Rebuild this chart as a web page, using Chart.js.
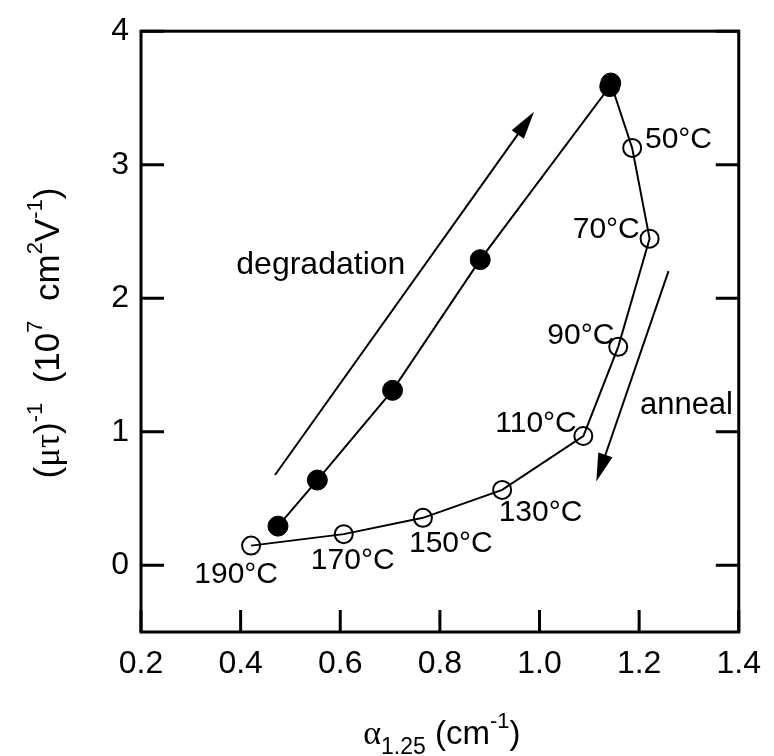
<!DOCTYPE html>
<html>
<head>
<meta charset="utf-8">
<script src="https://cdn.jsdelivr.net/npm/chart.js@4/dist/chart.umd.min.js"></script>
<style>
  body { margin: 0; background: #fff; }
  #wrap { width: 774px; height: 756px; }
</style>
</head>
<body>
<div id="wrap"><canvas id="chart" width="774" height="756"></canvas></div>
<script>
// degradation run (filled circles)
const degX = [0.475, 0.554, 0.705, 0.881, 1.141, 1.143];
const degY = [0.293, 0.638, 1.31, 2.289, 3.585, 3.612];

// anneal run (open circles), starts at the last degraded point
const annX = [1.143, 1.186, 1.221, 1.158, 1.088, 0.925, 0.766, 0.607, 0.421];
const annY = [3.612, 3.126, 2.446, 1.636, 0.968, 0.564, 0.355, 0.233, 0.147];
const annTemps = ['', '50°C', '70°C', '90°C', '110°C', '130°C', '150°C', '170°C', '190°C'];

// where each temperature label sits (data coords)
const tempLabelX = [null, 1.279, 1.134, 1.083, 0.993, 1.002, 0.822, 0.625, 0.391];
const tempLabelY = [null, 3.186, 2.515, 1.718, 1.060, 0.397, 0.164, 0.037, -0.074];

const xTicks = [0.2, 0.4, 0.6, 0.8, 1.0, 1.2, 1.4];
const yTicks = [0, 1, 2, 3, 4];

// arrows: [x0, y0, x1, y1] tail -> tip
const arrowDeg = [0.469, 0.676, 0.989, 3.397];
const arrowAnn = [1.259, 2.203, 1.114, 0.628];
const textNotes = [
    { text: 'degradation', x: 0.561, y: 2.247, size: 32 },
    { text: 'anneal', x: 1.295, y: 1.199, size: 31 }
];

const FONT = '"Liberation Sans", Arial, sans-serif';
const GREEK = '"Liberation Serif", "DejaVu Serif", serif';

function toPts(xs, ys) {
    return xs.map((x, i) => ({ x: x, y: ys[i] }));
}

// draws text runs, each {t, size, dy, font}
function drawRuns(ctx, runs, x, y, align) {
    let total = 0;
    runs.forEach(r => {
        ctx.font = r.size + 'px ' + (r.font || FONT);
        r.w = ctx.measureText(r.t).width;
        total += r.w;
    });
    let cx = align === 'center' ? x - total / 2 : x;
    runs.forEach(r => {
        ctx.font = r.size + 'px ' + (r.font || FONT);
        ctx.fillText(r.t, cx, y + (r.dy || 0));
        cx += r.w;
    });
}

function arrow(ctx, xs, ys, a) {
    const x0 = xs.getPixelForValue(a[0]), y0 = ys.getPixelForValue(a[1]);
    const x1 = xs.getPixelForValue(a[2]), y1 = ys.getPixelForValue(a[3]);
    const ang = Math.atan2(y1 - y0, x1 - x0);
    const hl = 28, hw = 7.5;
    ctx.beginPath();
    ctx.moveTo(x0, y0);
    ctx.lineTo(x1 - hl * 0.8 * Math.cos(ang), y1 - hl * 0.8 * Math.sin(ang));
    ctx.lineWidth = 2;
    ctx.stroke();
    ctx.beginPath();
    ctx.moveTo(x1, y1);
    ctx.lineTo(x1 - hl * Math.cos(ang) + hw * Math.sin(ang), y1 - hl * Math.sin(ang) - hw * Math.cos(ang));
    ctx.lineTo(x1 - hl * Math.cos(ang) - hw * Math.sin(ang), y1 - hl * Math.sin(ang) + hw * Math.cos(ang));
    ctx.closePath();
    ctx.fill();
}

const decor = {
    id: 'decor',
    afterDraw: (chart) => {
        const ctx = chart.ctx;
        const a = chart.chartArea;
        const xs = chart.scales.x, ys = chart.scales.y;
        ctx.save();
        ctx.strokeStyle = '#000';
        ctx.fillStyle = '#000';

        // frame + inward ticks
        ctx.lineWidth = 3;
        ctx.strokeRect(a.left, a.top, a.right - a.left, a.bottom - a.top);
        ctx.beginPath();
        yTicks.forEach(v => {
            const py = ys.getPixelForValue(v);
            ctx.moveTo(a.left, py); ctx.lineTo(a.left + 23, py);
            ctx.moveTo(a.right, py); ctx.lineTo(a.right - 23, py);
        });
        xTicks.forEach(v => {
            const px = xs.getPixelForValue(v);
            ctx.moveTo(px, a.bottom); ctx.lineTo(px, a.bottom - 22);
        });
        ctx.stroke();

        // arrows
        arrow(ctx, xs, ys, arrowDeg);
        arrow(ctx, xs, ys, arrowAnn);

        // annotations
        ctx.textAlign = 'center';
        ctx.textBaseline = 'middle';
        ctx.font = '30px ' + FONT;
        annTemps.forEach((t, i) => {
            if (!t) return;
            ctx.fillText(t, xs.getPixelForValue(tempLabelX[i]), ys.getPixelForValue(tempLabelY[i]));
        });
        textNotes.forEach(n => {
            ctx.font = n.size + 'px ' + FONT;
            ctx.fillText(n.text, xs.getPixelForValue(n.x), ys.getPixelForValue(n.y));
        });

        // axis titles
        ctx.textAlign = 'left';
        ctx.textBaseline = 'alphabetic';
        drawRuns(ctx, [
            { t: 'α', size: 34, font: GREEK },
            { t: '1.25', size: 23, dy: 10 },
            { t: ' (cm', size: 33 },
            { t: '-1', size: 22, dy: -16 },
            { t: ')', size: 33 }
        ], (a.left + a.right) / 2 + 2, 744, 'center');

        ctx.translate(59, 333);
        ctx.rotate(-Math.PI / 2);
        drawRuns(ctx, [
            { t: '(', size: 35 },
            { t: 'μτ', size: 35, font: GREEK },
            { t: ')', size: 35 },
            { t: '-1', size: 22, dy: -17 },
            { t: '  (10', size: 35 },
            { t: '7', size: 22, dy: -17 },
            { t: '  cm', size: 35 },
            { t: '2', size: 22, dy: -17 },
            { t: 'V', size: 35 },
            { t: '-1', size: 22, dy: -17 },
            { t: ')', size: 35 }
        ], 0, 0, 'center');
        ctx.restore();
    }
};

new Chart(document.getElementById('chart').getContext('2d'), {
    type: 'scatter',
    data: {
        datasets: [
            {
                data: toPts(degX, degY),
                showLine: true,
                borderColor: '#000',
                borderWidth: 2,
                pointRadius: 10,
                pointBackgroundColor: '#000',
                pointBorderColor: '#000',
                pointBorderWidth: 1
            },
            {
                data: toPts(annX, annY),
                showLine: true,
                borderColor: '#000',
                borderWidth: 2,
                pointRadius: annX.map((v, i) => i === 0 ? 0 : 9),
                pointBackgroundColor: 'rgba(0,0,0,0)',
                pointBorderColor: '#000',
                pointBorderWidth: 2
            }
        ]
    },
    options: {
        responsive: false,
        animation: false,
        layout: { padding: { top: 28, right: 27, left: 0, bottom: 0 } },
        plugins: { legend: { display: false }, tooltip: { enabled: false } },
        scales: {
            x: {
                type: 'linear',
                min: 0.2,
                max: 1.4,
                afterBuildTicks: (s) => { s.ticks = xTicks.map(v => ({ value: v })); },
                afterFit: (s) => { s.height = 124; },
                grid: { display: false, drawTicks: false },
                border: { display: false },
                ticks: {
                    color: '#000',
                    padding: 13,
                    maxRotation: 0,
                    font: { family: FONT, size: 32 },
                    callback: (v) => Number(v).toFixed(1)
                }
            },
            y: {
                type: 'linear',
                min: -0.5,
                max: 4,
                afterBuildTicks: (s) => { s.ticks = yTicks.map(v => ({ value: v })); },
                afterFit: (s) => { s.width = 141; },
                grid: { display: false, drawTicks: false },
                border: { display: false },
                ticks: {
                    color: '#000',
                    padding: 12,
                    font: { family: FONT, size: 32 },
                    callback: (v) => String(v)
                }
            }
        }
    },
    plugins: [decor]
});
</script>
</body>
</html>
